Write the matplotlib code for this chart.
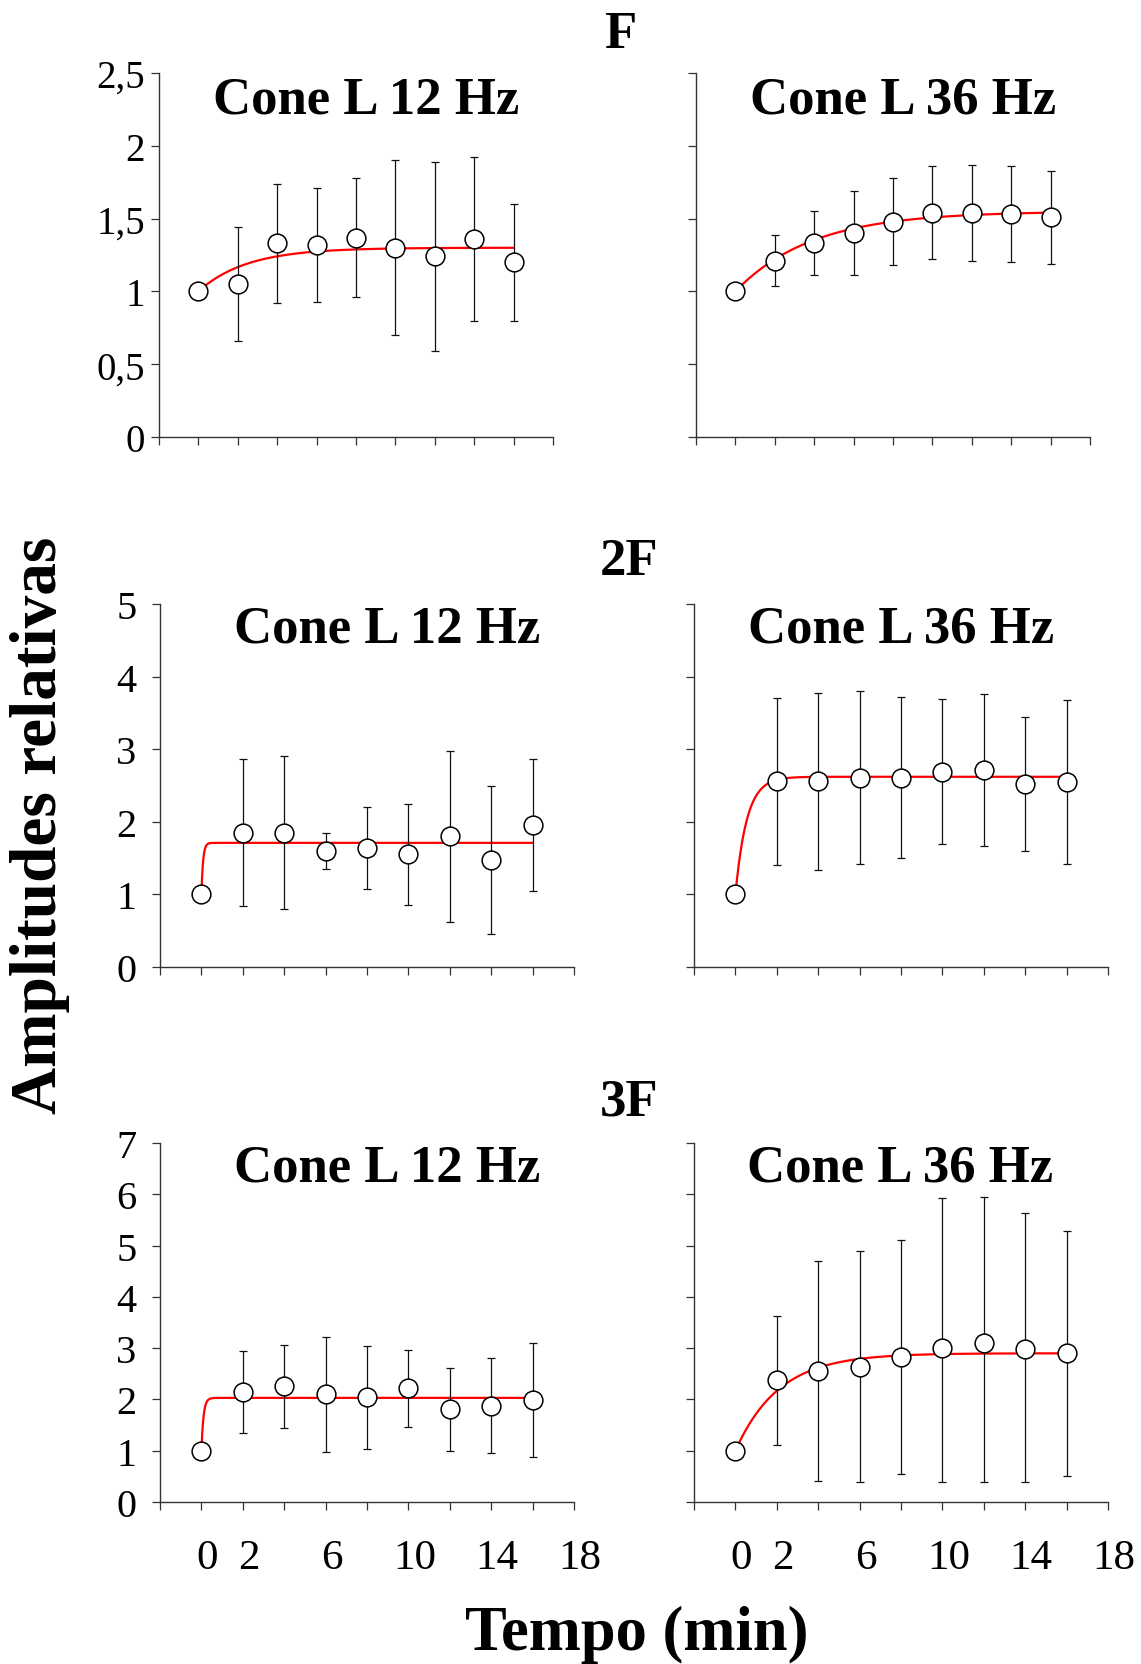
import numpy as np
import matplotlib
matplotlib.use("Agg")
import matplotlib.pyplot as plt
from matplotlib.transforms import ScaledTranslation

plt.rcParams["font.family"] = ["Liberation Serif", "DejaVu Serif"]

# Time points (min)
t_min = [0, 2, 4, 6, 8, 10, 12, 14, 16]

# Relative amplitudes (mean) and error bars for each harmonic / frequency
F_12_mean = [1.00, 1.05, 1.33, 1.32, 1.37, 1.30, 1.24, 1.36, 1.20]
F_12_err = [0.0, 0.39, 0.41, 0.39, 0.41, 0.60, 0.65, 0.56, 0.40]
F_36_mean = [1.00, 1.21, 1.33, 1.40, 1.48, 1.54, 1.54, 1.53, 1.51]
F_36_err = [0.0, 0.175, 0.22, 0.29, 0.30, 0.32, 0.33, 0.33, 0.32]

F2_12_mean = [1.00, 1.85, 1.85, 1.60, 1.64, 1.55, 1.80, 1.47, 1.95]
F2_12_err = [0.0, 1.01, 1.05, 0.25, 0.57, 0.69, 1.18, 1.02, 0.91]
F2_36_mean = [1.00, 2.56, 2.56, 2.61, 2.61, 2.69, 2.71, 2.52, 2.55]
F2_36_err = [0.0, 1.15, 1.22, 1.19, 1.11, 1.00, 1.05, 0.92, 1.13]

F3_12_mean = [1.00, 2.15, 2.26, 2.10, 2.04, 2.22, 1.81, 1.88, 1.99]
F3_12_err = [0.0, 0.80, 0.81, 1.12, 1.00, 0.75, 0.81, 0.92, 1.11]
F3_36_mean = [1.00, 2.37, 2.56, 2.63, 2.83, 3.01, 3.11, 2.98, 2.90]
F3_36_err_lo = [0.0, 1.25, 2.16, 2.24, 2.29, 2.62, 2.72, 2.59, 2.40]
F3_36_err_hi = [0.0, 1.26, 2.14, 2.27, 2.27, 2.91, 2.83, 2.66, 2.39]

# Exponential fit parameters: plateau and time constant (min)
fit_plateau = {"F12": 1.30, "F36": 1.55, "2F12": 1.71, "2F36": 2.62, "3F12": 2.03, "3F36": 2.90}
fit_tau = {"F12": 2.46, "F36": 3.9, "2F12": 0.08, "2F36": 0.55, "3F12": 0.10, "3F36": 2.1}

row_labels = ["F", "2F", "3F"]
panel_titles = ["Cone L 12 Hz", "Cone L 36 Hz"]
y_limits = [2.5, 5, 7]
y_ticks = [[0, 0.5, 1, 1.5, 2, 2.5], [0, 1, 2, 3, 4, 5], [0, 1, 2, 3, 4, 5, 6, 7]]
y_ticklabels = [["0", "0,5", "1", "1,5", "2", "2,5"],
                ["0", "1", "2", "3", "4", "5"],
                ["0", "1", "2", "3", "4", "5", "6", "7"]]
x_ticks = list(range(-2, 19, 2))
x_ticklabels = ["", "0", "2", "", "6", "", "10", "", "14", "", "18"]

W, H = 1141, 1665
fig = plt.figure(figsize=(W / 100, H / 100), dpi=100)

# axes boxes in pixels: (left, right, top, bottom)
boxes = [
    [(159, 553, 74, 438), (696, 1090, 74, 438)],
    [(160, 574, 605, 968), (694, 1108, 605, 968)],
    [(160, 574, 1144, 1503), (694, 1108, 1144, 1503)],
]

series = [
    [("F12", F_12_mean, F_12_err), ("F36", F_36_mean, F_36_err)],
    [("2F12", F2_12_mean, F2_12_err), ("2F36", F2_36_mean, F2_36_err)],
    [("3F12", F3_12_mean, F3_12_err), ("3F36", F3_36_mean, [F3_36_err_lo, F3_36_err_hi])],
]

title_baselines = [113, 643, 1182]
title_centers = [[366, 903], [387, 901], [387, 900]]
row_label_pos = [(620, 48), (629, 575), (629, 1115)]
ytick_size = [28, 29, 29]
ytick_pad = [4, 11, 11]

spine_color = "#333333"
t_fit = np.linspace(0, 16, 3000)

for r in range(3):
    for c in range(2):
        l, rr, tp, bt = boxes[r][c]
        ax = fig.add_axes([l / W, 1 - bt / H, (rr - l) / W, (bt - tp) / H])
        key, mean, err = series[r][c]

        plateau = fit_plateau[key]
        tau = fit_tau[key]
        fit = 1 + (plateau - 1) * (1 - np.exp(-t_fit / tau))
        ax.plot(t_fit, fit, color="#ff0000", lw=1.6, zorder=2)

        ax.errorbar(t_min, mean, yerr=err, fmt="none", ecolor="#111111",
                    elinewidth=0.9, capsize=3.2, capthick=0.9, zorder=3)
        ax.plot(t_min, mean, "o", ms=13.5, mfc="white", mec="black",
                mew=1.1, zorder=4)

        ax.set_xlim(-2, 18)
        ax.set_ylim(0, y_limits[r])
        for s in ["top", "right"]:
            ax.spines[s].set_visible(False)
        for s in ["left", "bottom"]:
            ax.spines[s].set_color(spine_color)
            ax.spines[s].set_linewidth(1.0)
        ax.set_xticks(x_ticks)
        ax.set_yticks(y_ticks[r])
        ax.tick_params(axis="both", direction="out", length=6, width=0.9,
                       color=spine_color)
        ax.tick_params(axis="y", labelsize=ytick_size[r], pad=ytick_pad[r])
        if c == 0:
            ax.set_yticklabels(y_ticklabels[r])
        else:
            ax.set_yticklabels([])
        if r == 2:
            ax.set_xticklabels(x_ticklabels)
            ax.tick_params(axis="x", labelsize=31, pad=20)
            shift = ScaledTranslation(6 / 100, 0, fig.dpi_scale_trans)
            for lab in ax.get_xticklabels():
                lab.set_transform(lab.get_transform() + shift)
        else:
            ax.set_xticklabels([])

        fig.text(title_centers[r][c] / W, 1 - title_baselines[r] / H,
                 panel_titles[c], ha="center", va="baseline",
                 fontsize=38, fontweight="bold")

    x, y = row_label_pos[r]
    fig.text(x / W, 1 - y / H, row_labels[r], ha="center", va="baseline",
             fontsize=38, fontweight="bold")

fig.text(40 / W, 1 - 825 / H, "Amplitudes relativas", rotation=90,
         ha="center", va="center", fontsize=47, fontweight="bold")
fig.text(637 / W, 1 - 1650 / H, "Tempo (min)", ha="center", va="baseline",
         fontsize=45, fontweight="bold")

fig.savefig("out.png", dpi=100, facecolor="white")
